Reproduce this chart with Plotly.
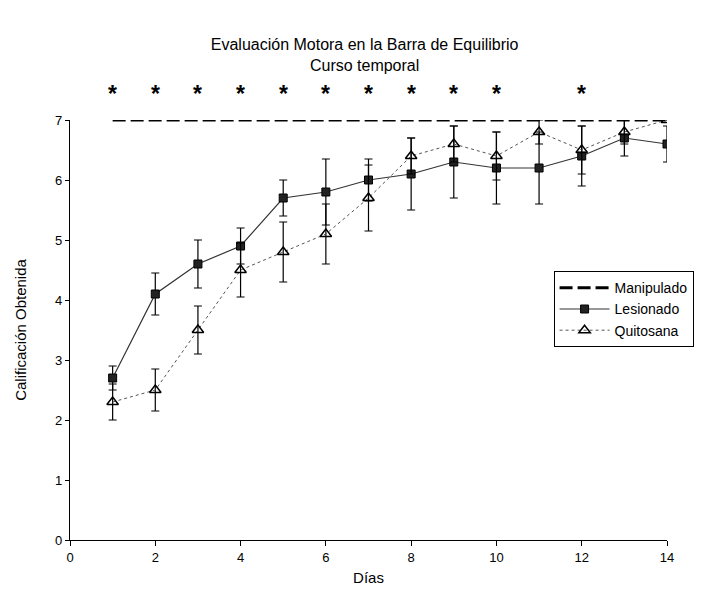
import plotly.graph_objects as go

dias = list(range(1, 15))
manipulado = [7.0] * 14
lesionado = [2.7, 4.1, 4.6, 4.9, 5.7, 5.8, 6.0, 6.1, 6.3, 6.2, 6.2, 6.4, 6.7, 6.6]
lesionado_err = [0.2, 0.35, 0.4, 0.3, 0.3, 0.55, 0.35, 0.6, 0.6, 0.6, 0.6, 0.5, 0.3, 0.3]
quitosana = [2.3, 2.5, 3.5, 4.5, 4.8, 5.1, 5.7, 6.4, 6.6, 6.4, 6.8, 6.5, 6.8, 7.0]
quitosana_err = [0.3, 0.35, 0.4, 0.45, 0.5, 0.5, 0.55, 0.3, 0.3, 0.4, 0.2, 0.4, 0.2, 0.0]
signif_dias = [1, 2, 3, 4, 5, 6, 7, 8, 9, 10, 12]
signif_ref = [7.0] * len(signif_dias)

FONT = "Liberation Sans, Arial, sans-serif"

fig = go.Figure()
fig.add_trace(go.Scatter(
    x=dias, y=manipulado, name="Manipulado", mode="lines",
    line=dict(color="black", width=3, dash="13px,5px"),
))
fig.add_trace(go.Scatter(
    x=dias, y=lesionado, name="Lesionado", mode="lines+markers",
    line=dict(color="#333333", width=1.2),
    marker=dict(symbol="square", size=8, color="#222222", line=dict(color="black", width=1)),
    error_y=dict(type="data", array=lesionado_err, color="black", thickness=1.2, width=4),
))
fig.add_trace(go.Scatter(
    x=dias, y=quitosana, name="Quitosana", mode="lines+markers",
    line=dict(color="#555555", width=1, dash="dot"),
    marker=dict(symbol="triangle-up-open", size=10, color="black", line=dict(color="black", width=1.5)),
    error_y=dict(type="data", array=quitosana_err, color="black", thickness=1.2, width=4),
))

for xd, yd in zip(signif_dias, signif_ref):
    fig.add_annotation(
        x=xd, y=yd, xref="x", yref="y", text="<b>*</b>", showarrow=False,
        yshift=26, font=dict(family=FONT, size=23, color="black"),
    )

fig.update_layout(
    width=708, height=607,
    paper_bgcolor="white", plot_bgcolor="white",
    margin=dict(l=70, r=41, t=120, b=67),
    font=dict(family=FONT, color="black", size=12),
    title=dict(
        text="Evaluación Motora en la Barra de Equilibrio<br>Curso temporal",
        x=0.515, xanchor="center", y=0.918, yanchor="middle",
        font=dict(family=FONT, size=16, color="black"),
    ),
    showlegend=True,
    legend=dict(
        x=0.81, y=0.64, xanchor="left", yanchor="top",
        bgcolor="white", bordercolor="black", borderwidth=1,
        font=dict(family=FONT, size=14, color="black"),
        tracegroupgap=0, itemwidth=50,
    ),
    xaxis=dict(
        range=[0, 14], tickvals=[0, 2, 4, 6, 8, 10, 12, 14],
        showgrid=False, zeroline=False, showline=True, linecolor="black", linewidth=1.2,
        ticks="outside", ticklen=5, tickcolor="black",
        title=dict(text="Días", font=dict(family=FONT, size=15), standoff=8),
        tickfont=dict(family=FONT, size=13),
    ),
    yaxis=dict(
        range=[0, 7], tickvals=[0, 1, 2, 3, 4, 5, 6, 7],
        showgrid=False, zeroline=False, showline=True, linecolor="black", linewidth=1.2,
        ticks="outside", ticklen=4, tickcolor="black",
        title=dict(text="Calificación Obtenida", font=dict(family=FONT, size=15), standoff=24),
        tickfont=dict(family=FONT, size=13),
    ),
)

fig.write_html("out.html")
